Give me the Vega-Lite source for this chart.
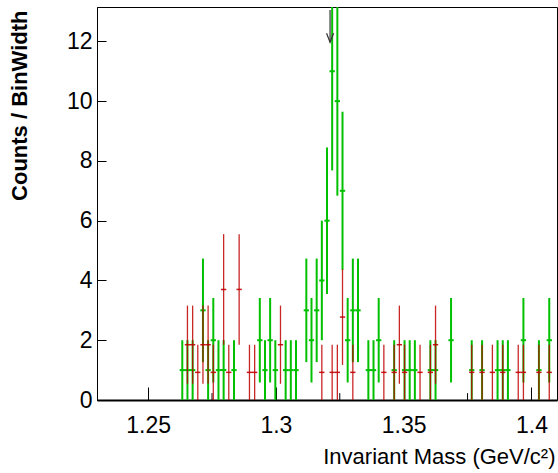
{
  "$schema": "https://vega.github.io/schema/vega-lite/v6.json",
  "width": 460,
  "height": 393,
  "autosize": {"type": "none"},
  "padding": {"left": 97, "top": 7, "right": 1, "bottom": 73},
  "background": "white",
  "config": {
    "view": {"stroke": "black", "strokeWidth": 1},
    "font": "Liberation Sans",
    "axis": {"grid": false, "domainColor": "black", "tickColor": "black", "labelColor": "black", "titleColor": "black", "labelFont": "Liberation Sans", "titleFont": "Liberation Sans"},
    "axisY": {
      "tickSize": -9,
      "tickWidth": 1,
      "labelPadding": 14,
      "labelFontSize": 23,
      "labelFlush": false,
      "titleFontSize": 22,
      "titleFontWeight": "bold",
      "titleAngle": -90,
      "titleAlign": "right",
      "titleBaseline": "alphabetic",
      "titleX": -71,
      "titleY": 3
    }
  },
  "datasets": {
    "bins": [
      {"m": 1.26337, "s": "g", "v": 1, "lo": 0, "hi": 2},
      {"m": 1.26539, "s": "g", "v": 1, "lo": 0, "hi": 2},
      {"m": 1.26742, "s": "g", "v": 1, "lo": 0, "hi": 2},
      {"m": 1.27146, "s": "g", "v": 3, "lo": 1.268, "hi": 4.732},
      {"m": 1.27348, "s": "g", "v": 1, "lo": 0, "hi": 2},
      {"m": 1.27551, "s": "g", "v": 2, "lo": 0.586, "hi": 3.414},
      {"m": 1.27753, "s": "g", "v": 1, "lo": 0, "hi": 2},
      {"m": 1.27955, "s": "g", "v": 1, "lo": 0, "hi": 2},
      {"m": 1.2836, "s": "g", "v": 1, "lo": 0, "hi": 2},
      {"m": 1.29371, "s": "g", "v": 2, "lo": 0.586, "hi": 3.414},
      {"m": 1.29573, "s": "g", "v": 1, "lo": 0, "hi": 2},
      {"m": 1.29775, "s": "g", "v": 2, "lo": 0.586, "hi": 3.414},
      {"m": 1.29978, "s": "g", "v": 1, "lo": 0, "hi": 2},
      {"m": 1.30382, "s": "g", "v": 1, "lo": 0, "hi": 2},
      {"m": 1.30584, "s": "g", "v": 1, "lo": 0, "hi": 2},
      {"m": 1.30787, "s": "g", "v": 1, "lo": 0, "hi": 2},
      {"m": 1.31191, "s": "g", "v": 3, "lo": 1.268, "hi": 4.732},
      {"m": 1.31393, "s": "g", "v": 2, "lo": 0.586, "hi": 3.414},
      {"m": 1.31596, "s": "g", "v": 3, "lo": 1.268, "hi": 4.732},
      {"m": 1.31798, "s": "g", "v": 4, "lo": 2, "hi": 6},
      {"m": 1.32, "s": "g", "v": 6, "lo": 3.551, "hi": 8.449},
      {"m": 1.32202, "s": "g", "v": 11, "lo": 7.683, "hi": 14.317},
      {"m": 1.32405, "s": "g", "v": 10, "lo": 6.838, "hi": 13.162},
      {"m": 1.32607, "s": "g", "v": 7, "lo": 4.354, "hi": 9.646},
      {"m": 1.32809, "s": "g", "v": 2, "lo": 0.586, "hi": 3.414},
      {"m": 1.33011, "s": "g", "v": 3, "lo": 1.268, "hi": 4.732},
      {"m": 1.33214, "s": "g", "v": 3, "lo": 1.268, "hi": 4.732},
      {"m": 1.33618, "s": "g", "v": 1, "lo": 0, "hi": 2},
      {"m": 1.3382, "s": "g", "v": 1, "lo": 0, "hi": 2},
      {"m": 1.34023, "s": "g", "v": 2, "lo": 0.586, "hi": 3.414},
      {"m": 1.34629, "s": "g", "v": 1, "lo": 0, "hi": 2},
      {"m": 1.35034, "s": "g", "v": 1, "lo": 0, "hi": 2},
      {"m": 1.35236, "s": "g", "v": 1, "lo": 0, "hi": 2},
      {"m": 1.35438, "s": "g", "v": 1, "lo": 0, "hi": 2},
      {"m": 1.36045, "s": "g", "v": 1, "lo": 0, "hi": 2},
      {"m": 1.36247, "s": "g", "v": 1, "lo": 0, "hi": 2},
      {"m": 1.36854, "s": "g", "v": 2, "lo": 0.586, "hi": 3.414},
      {"m": 1.37663, "s": "g", "v": 1, "lo": 0, "hi": 2},
      {"m": 1.38068, "s": "g", "v": 1, "lo": 0, "hi": 2},
      {"m": 1.38674, "s": "g", "v": 1, "lo": 0, "hi": 2},
      {"m": 1.38877, "s": "g", "v": 1, "lo": 0, "hi": 2},
      {"m": 1.39079, "s": "g", "v": 1, "lo": 0, "hi": 2},
      {"m": 1.39686, "s": "g", "v": 2, "lo": 0.586, "hi": 3.414},
      {"m": 1.40292, "s": "g", "v": 1, "lo": 0, "hi": 2},
      {"m": 1.40697, "s": "g", "v": 2, "lo": 0.586, "hi": 3.414},
      {"m": 1.26539, "s": "r", "v": 1.85, "lo": 0.542, "hi": 3.158},
      {"m": 1.26742, "s": "r", "v": 1.85, "lo": 0.542, "hi": 3.158},
      {"m": 1.26944, "s": "r", "v": 0.925, "lo": 0, "hi": 1.85},
      {"m": 1.27146, "s": "r", "v": 1.85, "lo": 0.542, "hi": 3.158},
      {"m": 1.27348, "s": "r", "v": 1.85, "lo": 0.542, "hi": 3.158},
      {"m": 1.27551, "s": "r", "v": 0.925, "lo": 0, "hi": 1.85},
      {"m": 1.27955, "s": "r", "v": 3.7, "lo": 1.85, "hi": 5.55},
      {"m": 1.28157, "s": "r", "v": 0.925, "lo": 0, "hi": 1.85},
      {"m": 1.28562, "s": "r", "v": 3.7, "lo": 1.85, "hi": 5.55},
      {"m": 1.28966, "s": "r", "v": 0.925, "lo": 0, "hi": 1.85},
      {"m": 1.29169, "s": "r", "v": 0.925, "lo": 0, "hi": 1.85},
      {"m": 1.3018, "s": "r", "v": 1.85, "lo": 0.542, "hi": 3.158},
      {"m": 1.31798, "s": "r", "v": 0.925, "lo": 0, "hi": 1.85},
      {"m": 1.32202, "s": "r", "v": 0.925, "lo": 0, "hi": 1.85},
      {"m": 1.32405, "s": "r", "v": 0.925, "lo": 0, "hi": 1.85},
      {"m": 1.32607, "s": "r", "v": 2.775, "lo": 1.173, "hi": 4.377},
      {"m": 1.33011, "s": "r", "v": 0.925, "lo": 0, "hi": 1.85},
      {"m": 1.34225, "s": "r", "v": 0.925, "lo": 0, "hi": 1.85},
      {"m": 1.34629, "s": "r", "v": 0.925, "lo": 0, "hi": 1.85},
      {"m": 1.34832, "s": "r", "v": 1.85, "lo": 0.542, "hi": 3.158},
      {"m": 1.35034, "s": "r", "v": 0.925, "lo": 0, "hi": 1.85},
      {"m": 1.35641, "s": "r", "v": 0.925, "lo": 0, "hi": 1.85},
      {"m": 1.36045, "s": "r", "v": 0.925, "lo": 0, "hi": 1.85},
      {"m": 1.36247, "s": "r", "v": 1.85, "lo": 0.542, "hi": 3.158},
      {"m": 1.37663, "s": "r", "v": 0.925, "lo": 0, "hi": 1.85},
      {"m": 1.38068, "s": "r", "v": 0.925, "lo": 0, "hi": 1.85},
      {"m": 1.38472, "s": "r", "v": 0.925, "lo": 0, "hi": 1.85},
      {"m": 1.38877, "s": "r", "v": 0.925, "lo": 0, "hi": 1.85},
      {"m": 1.39483, "s": "r", "v": 0.925, "lo": 0, "hi": 1.85},
      {"m": 1.39686, "s": "r", "v": 0.925, "lo": 0, "hi": 1.85},
      {"m": 1.40292, "s": "r", "v": 0.925, "lo": 0, "hi": 1.85},
      {"m": 1.40697, "s": "r", "v": 0.925, "lo": 0, "hi": 1.85}
    ],
    "minor": [{"m": 1.275}, {"m": 1.325}, {"m": 1.375}],
    "arrow": [{"m": 1.3212, "top": 13.05, "tip": 11.97}]
  },
  "encoding": {
    "x": {
      "field": "m",
      "type": "quantitative",
      "scale": {"domain": [1.23, 1.41], "nice": false, "zero": false},
      "axis": {
        "values": [1.25, 1.3, 1.35, 1.4],
        "format": ".3~f",
        "tickSize": -13,
        "tickWidth": 1,
        "labelPadding": 27,
        "labelFontSize": 23,
        "labelFlush": false,
        "domainWidth": 2,
        "title": "Invariant Mass (GeV/c²)",
        "titleFontSize": 22,
        "titleFontWeight": "normal",
        "titleAlign": "right",
        "titleAnchor": "end",
        "titleBaseline": "alphabetic",
        "titleX": 458,
        "titleY": 63
      }
    }
  },
  "layer": [
    {
      "data": {"name": "minor"},
      "mark": {"type": "rule", "color": "black", "strokeWidth": 1},
      "encoding": {
        "y": {"datum": 0, "type": "quantitative", "scale": {"domain": [0, 13.15], "nice": false}, "axis": {"values": [0, 2, 4, 6, 8, 10, 12], "format": "d", "title": "Counts / BinWidth"}},
        "y2": {"datum": 0.23}
      }
    },
    {
      "data": {"name": "bins"},
      "transform": [{"filter": "datum.s === 'g'"}],
      "mark": {"type": "rule", "color": "#00c000", "strokeWidth": 2, "clip": true},
      "encoding": {
        "y": {"field": "lo", "type": "quantitative", "scale": {"domain": [0, 13.15], "nice": false}, "axis": {"values": [0, 2, 4, 6, 8, 10, 12], "format": "d", "title": "Counts / BinWidth"}},
        "y2": {"field": "hi"}
      }
    },
    {
      "data": {"name": "bins"},
      "transform": [{"filter": "datum.s === 'g'"}],
      "mark": {"type": "tick", "orient": "horizontal", "color": "#00c000", "size": 5.3, "thickness": 2, "opacity": 1, "clip": true},
      "encoding": {
        "y": {"field": "v", "type": "quantitative", "scale": {"domain": [0, 13.15], "nice": false}, "axis": {"values": [0, 2, 4, 6, 8, 10, 12], "format": "d", "title": "Counts / BinWidth"}}
      }
    },
    {
      "data": {"name": "bins"},
      "transform": [{"filter": "datum.s === 'r'"}],
      "mark": {"type": "rule", "color": "#c00000", "strokeWidth": 1.3, "opacity": 0.85, "clip": true},
      "encoding": {
        "y": {"field": "lo", "type": "quantitative", "scale": {"domain": [0, 13.15], "nice": false}, "axis": {"values": [0, 2, 4, 6, 8, 10, 12], "format": "d", "title": "Counts / BinWidth"}},
        "y2": {"field": "hi"}
      }
    },
    {
      "data": {"name": "bins"},
      "transform": [{"filter": "datum.s === 'r'"}],
      "mark": {"type": "tick", "orient": "horizontal", "color": "#c00000", "size": 5.3, "thickness": 1.5, "opacity": 0.9, "clip": true},
      "encoding": {
        "y": {"field": "v", "type": "quantitative", "scale": {"domain": [0, 13.15], "nice": false}, "axis": {"values": [0, 2, 4, 6, 8, 10, 12], "format": "d", "title": "Counts / BinWidth"}}
      }
    },
    {
      "data": {"name": "arrow"},
      "mark": {"type": "rule", "color": "#333333", "strokeWidth": 1.2},
      "encoding": {
        "y": {"field": "top", "type": "quantitative", "scale": {"domain": [0, 13.15], "nice": false}, "axis": {"values": [0, 2, 4, 6, 8, 10, 12], "format": "d", "title": "Counts / BinWidth"}},
        "y2": {"field": "tip"}
      }
    },
    {
      "data": {"name": "arrow"},
      "mark": {"type": "point", "shape": "M-0.7,-1.8L0,0L0.7,-1.8", "filled": false, "stroke": "#333333", "strokeWidth": 1.2, "size": 100, "opacity": 1},
      "encoding": {
        "y": {"field": "tip", "type": "quantitative", "scale": {"domain": [0, 13.15], "nice": false}, "axis": {"values": [0, 2, 4, 6, 8, 10, 12], "format": "d", "title": "Counts / BinWidth"}}
      }
    }
  ]
}
